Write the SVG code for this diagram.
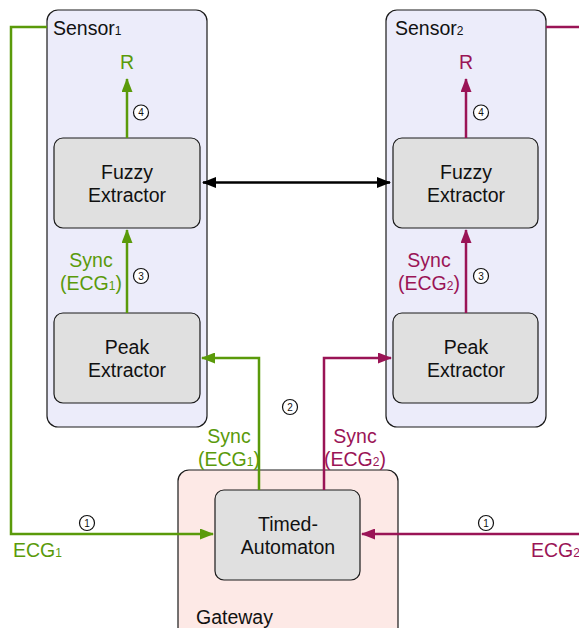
<svg xmlns="http://www.w3.org/2000/svg" width="579" height="628" viewBox="0 0 579 628">
<style>
text{font-family:"Liberation Sans",Arial,sans-serif;}
.container{fill:#ececfa;stroke:#1a1a1a;stroke-width:1.2;}
.gw{fill:#fde9e6;stroke:#1a1a1a;stroke-width:1.2;}
.proc{fill:#e0e0e0;stroke:#1a1a1a;stroke-width:1.2;}
.lbl{font-size:19.5px;fill:#111;text-anchor:middle;}
.title{font-size:19.5px;fill:#111;}
.g{stroke:#5a9a0a;stroke-width:2.5;fill:none;}
.m{stroke:#9a1456;stroke-width:2.5;fill:none;}
.k{stroke:#000;stroke-width:2.5;fill:none;}
.gt{fill:#5a9a0a;font-size:19.5px;}
.mt{fill:#9a1456;font-size:19.5px;}
.sub{font-size:12px;}
.num circle{fill:#fff;stroke:#111;stroke-width:1.2;}
.num text{font-size:10px;fill:#111;text-anchor:middle;}
</style>
<defs>
<marker id="ag" viewBox="0 0 14 11" refX="13" refY="5.5" markerWidth="5.6" markerHeight="4.4" orient="auto" markerUnits="strokeWidth"><path d="M0,0L14,5.5L0,11z" fill="#5a9a0a"/></marker>
<marker id="am" viewBox="0 0 14 11" refX="13" refY="5.5" markerWidth="5.6" markerHeight="4.4" orient="auto" markerUnits="strokeWidth"><path d="M0,0L14,5.5L0,11z" fill="#9a1456"/></marker>
<marker id="ak" viewBox="0 0 14 11" refX="13" refY="5.5" markerWidth="5.6" markerHeight="4.4" orient="auto-start-reverse" markerUnits="strokeWidth"><path d="M0,0L14,5.5L0,11z" fill="#000"/></marker>
</defs>

<g id="sensor1">
<rect class="container" x="47" y="10" width="160" height="417" rx="11"/>
<text class="title" x="53" y="35">Sensor<tspan class="sub">1</tspan></text>
</g>
<g id="sensor2">
<rect class="container" x="386" y="10" width="160" height="417" rx="11"/>
<text class="title" x="395" y="35">Sensor<tspan class="sub">2</tspan></text>
</g>
<g id="gateway">
<rect class="gw" x="178" y="470" width="220" height="170" rx="11"/>
<text class="title" x="196" y="624">Gateway</text>
</g>

<g id="fuzzy1">
<rect class="proc" x="54" y="138" width="146" height="90" rx="9"/>
<text class="lbl" x="127" y="179">Fuzzy</text>
<text class="lbl" x="127" y="202">Extractor</text>
</g>
<g id="peak1">
<rect class="proc" x="54" y="313" width="146" height="90" rx="9"/>
<text class="lbl" x="127" y="354">Peak</text>
<text class="lbl" x="127" y="377">Extractor</text>
</g>
<g id="fuzzy2">
<rect class="proc" x="393" y="138" width="145" height="90" rx="9"/>
<text class="lbl" x="466" y="179">Fuzzy</text>
<text class="lbl" x="466" y="202">Extractor</text>
</g>
<g id="peak2">
<rect class="proc" x="393" y="313" width="145" height="90" rx="9"/>
<text class="lbl" x="466" y="354">Peak</text>
<text class="lbl" x="466" y="377">Extractor</text>
</g>
<g id="timed">
<rect class="proc" x="215" y="490" width="145" height="90" rx="9"/>
<text class="lbl" x="288" y="531">Timed-</text>
<text class="lbl" x="288" y="554">Automaton</text>
</g>

<g id="connectors">
<path class="g" d="M47,27H11V534H213" marker-end="url(#ag)"/>
<path class="m" d="M546,27H579"/>
<path class="m" d="M579,534H362" marker-end="url(#am)"/>
<path class="g" d="M259,490V358H202" marker-end="url(#ag)"/>
<path class="m" d="M324,490V358H391" marker-end="url(#am)"/>
<path class="g" d="M127,313V230" marker-end="url(#ag)"/>
<path class="m" d="M466,313V230" marker-end="url(#am)"/>
<path class="g" d="M127,138V79" marker-end="url(#ag)"/>
<path class="m" d="M466,138V79" marker-end="url(#am)"/>
<path class="k" d="M203,182.5H390" marker-start="url(#ak)" marker-end="url(#ak)"/>
</g>

<g id="labels">
<text class="gt" x="127" y="69" text-anchor="middle">R</text>
<text class="mt" x="466" y="69" text-anchor="middle">R</text>
<text class="gt" x="91" y="267" text-anchor="middle">Sync</text>
<text class="gt" x="91" y="290" text-anchor="middle">(ECG<tspan class="sub">1</tspan>)</text>
<text class="mt" x="429" y="267" text-anchor="middle">Sync</text>
<text class="mt" x="429" y="290" text-anchor="middle">(ECG<tspan class="sub">2</tspan>)</text>
<text class="gt" x="229" y="443" text-anchor="middle">Sync</text>
<text class="gt" x="229" y="466" text-anchor="middle">(ECG<tspan class="sub">1</tspan>)</text>
<text class="mt" x="355" y="443" text-anchor="middle">Sync</text>
<text class="mt" x="355" y="466" text-anchor="middle">(ECG<tspan class="sub">2</tspan>)</text>
<text class="gt" x="13" y="557">ECG<tspan class="sub">1</tspan></text>
<text class="mt" x="531" y="557">ECG<tspan class="sub">2</tspan></text>
</g>

<g class="num">
<circle cx="141" cy="112.5" r="7.5"/><text x="141" y="116">4</text>
<circle cx="481" cy="112.5" r="7.5"/><text x="481" y="116">4</text>
<circle cx="141" cy="276" r="7.5"/><text x="141" y="279.5">3</text>
<circle cx="481" cy="276" r="7.5"/><text x="481" y="279.5">3</text>
<circle cx="290" cy="407" r="7.5"/><text x="290" y="410.5">2</text>
<circle cx="87" cy="523" r="7.5"/><text x="87" y="526.5">1</text>
<circle cx="486" cy="523" r="7.5"/><text x="486" y="526.5">1</text>
</g>
</svg>
